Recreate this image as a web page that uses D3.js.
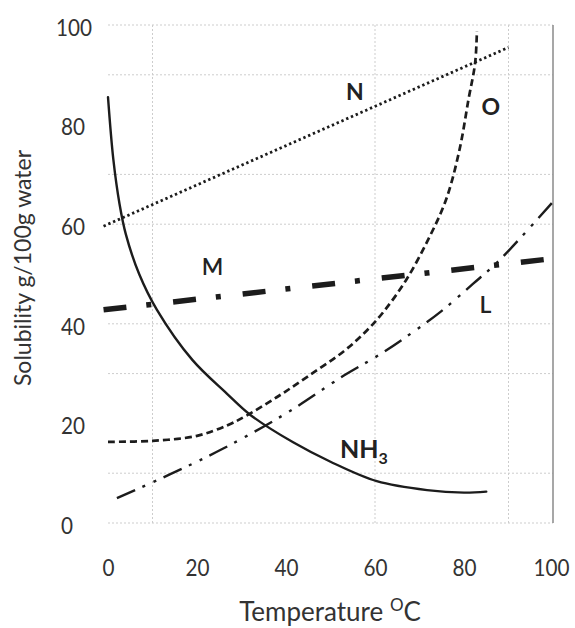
<!DOCTYPE html>
<html>
<head>
<meta charset="utf-8">
<script src="https://cdn.jsdelivr.net/npm/d3@7"></script>
<style>
  html, body { margin: 0; padding: 0; background: #fff; }
  svg { display: block; }
</style>
</head>
<body>
<svg id="chart" width="575" height="628"></svg>
<script>
// ---------- data ----------
const xTicks = [0, 20, 40, 60, 80, 100];
const yTicks = [0, 20, 40, 60, 80, 100];
const xGrid = [10, 60, 90];
const yGrid = [0, 10, 30, 40, 60, 70, 90, 100];

// N : dotted, nearly straight
const nTemp = [-1, 90];
const nSol  = [59.6, 95.5];

// O : dashed, rising steeply
const oTemp = [0, 10, 20, 27, 31, 38, 45, 53, 58, 62, 67, 72, 76, 79, 81, 82.5, 82.9];
const oSol  = [16.3, 16.5, 17.5, 19.7, 21.5, 25.3, 29.5, 34.5, 38.5, 42.5, 48.8, 57, 65, 75, 85, 92.4, 98.8];

// L : dash-dot-dot
const lTemp = [2, 14, 26, 40, 53, 61, 68, 75, 82, 88, 100];
const lSol  = [5, 9.8, 15, 22, 29.6, 33.8, 38, 42.6, 48, 52.8, 64.5];

// M : thick dash-dot
const mTemp = [-1, 100];
const mSol  = [42.8, 53.1];

// NH3 : solid, falling
const hTemp = [0, 1.2, 2.6, 4, 7, 11, 19, 26.7, 32, 41.6, 50, 60.4, 71.7, 80, 85];
const hSol  = [85.5, 73, 64, 58, 50, 42.8, 32.7, 26, 21.7, 16.2, 12.3, 8.4, 6.6, 6.1, 6.3];

const seriesLabels = ["N", "O", "M", "L", "NH"];
// label anchor positions in data units
const labelTemp = [55.5, 86, 23.5, 84.8, 57.5];
const labelSol  = [85, 81.9, 49.8, 42.2, 13];

// ---------- drawing ----------
const svg = d3.select("#chart");
const x = d3.scaleLinear().domain([0, 100]).range([108, 553]);
const y = d3.scaleLinear().domain([0, 100]).range([523, 25]);

const tickFont = "'Lato', 'Liberation Sans', sans-serif";
const titleFont = "'Lato', 'Liberation Sans', sans-serif";
const ink = "#1c1c1c";
const textInk = "#333";

// grid
const grid = svg.append("g").attr("class", "grid");
grid.selectAll("line.h").data(yGrid).enter().append("line")
  .attr("x1", x(0)).attr("x2", x(100))
  .attr("y1", d => y(d)).attr("y2", d => y(d))
  .attr("stroke", "#cdcdcd").attr("stroke-width", 1).attr("stroke-dasharray", "2,2");
grid.selectAll("line.v").data(xGrid).enter().append("line")
  .attr("x1", d => x(d)).attr("x2", d => x(d))
  .attr("y1", y(0)).attr("y2", y(100))
  .attr("stroke", "#cdcdcd").attr("stroke-width", 1).attr("stroke-dasharray", "2,2");
// right frame line
grid.append("line")
  .attr("x1", x(100)).attr("x2", x(100)).attr("y1", y(100)).attr("y2", y(0))
  .attr("stroke", "#8a8a8a").attr("stroke-width", 1.5);

// axes (labels only)
const xAxis = svg.append("g")
  .attr("transform", `translate(0,${y(0)})`)
  .call(d3.axisBottom(x).tickValues(xTicks).tickSize(0).tickPadding(37));
xAxis.select(".domain").remove();
xAxis.selectAll("text")
  .attr("font-family", tickFont).attr("font-size", 23).attr("fill", textInk)
  .attr("dx", d => d === 100 ? -2 : 0)
  .attr("lengthAdjust", "spacingAndGlyphs")
  .attr("textLength", d => String(d).length * 12);

const yAxis = svg.append("g")
  .call(d3.axisLeft(y).tickValues(yTicks).tickSize(0));
yAxis.select(".domain").remove();
yAxis.selectAll("text")
  .attr("x", d => d === 100 ? 56 : 61).attr("text-anchor", "start").attr("dy", "0.45em")
  .attr("font-family", tickFont).attr("font-size", 23).attr("fill", textInk)
  .attr("lengthAdjust", "spacingAndGlyphs")
  .attr("textLength", d => String(d).length * 12);

// axis titles
const xt = svg.append("text")
  .attr("x", 330).attr("y", 621)
  .attr("text-anchor", "middle")
  .attr("font-family", titleFont).attr("font-size", 26).attr("fill", textInk);
xt.append("tspan").text("Temperature ");
xt.append("tspan").attr("font-size", 17).attr("dy", -10).text("O");
xt.append("tspan").attr("dy", 10).text("C");

svg.append("text")
  .attr("transform", "translate(31,268) rotate(-90)")
  .attr("text-anchor", "middle")
  .attr("font-family", titleFont).attr("font-size", 23).attr("fill", textInk)
  .text("Solubility g/100g water");

// series
const line = d3.line().x(d => x(d[0])).y(d => y(d[1])).curve(d3.curveCatmullRom.alpha(0.5));
const zipPts = (t, s) => t.map((v, i) => [v, s[i]]);

const series = [
  { pts: zipPts(nTemp, nSol), width: 2.8, dash: "2.4,2.8", cap: "butt" },
  { pts: zipPts(oTemp, oSol), width: 2.7, dash: "7,4", cap: "butt" },
  { pts: zipPts(lTemp, lSol), width: 2.4, dash: "20,8,3,9,3,8", cap: "butt" },
  { pts: zipPts(mTemp, mSol), width: 5.5, dash: "23,20,5,22", cap: "butt" },
  { pts: zipPts(hTemp, hSol), width: 2.4, dash: null, cap: "round" }
];
svg.append("g").selectAll("path").data(series).enter().append("path")
  .attr("d", d => line(d.pts))
  .attr("fill", "none")
  .attr("stroke", ink)
  .attr("stroke-width", d => d.width)
  .attr("stroke-linecap", d => d.cap)
  .attr("stroke-dasharray", d => d.dash);

// series labels
const lbl = svg.append("g").attr("font-family", titleFont).attr("fill", "#222");
seriesLabels.forEach((s, i) => {
  const t = lbl.append("text")
    .attr("x", x(labelTemp[i])).attr("y", y(labelSol[i]))
    .attr("text-anchor", "middle")
    .attr("font-size", s === "NH" ? 25 : 23)
    .attr("font-weight", (s === "N" || s === "O" || s === "NH") ? 700 : 600)
    .text(s);
  if (s === "NH") {
    t.append("tspan").attr("font-size", 16).attr("dy", 6).text("3");
  }
});
</script>
</body>
</html>
